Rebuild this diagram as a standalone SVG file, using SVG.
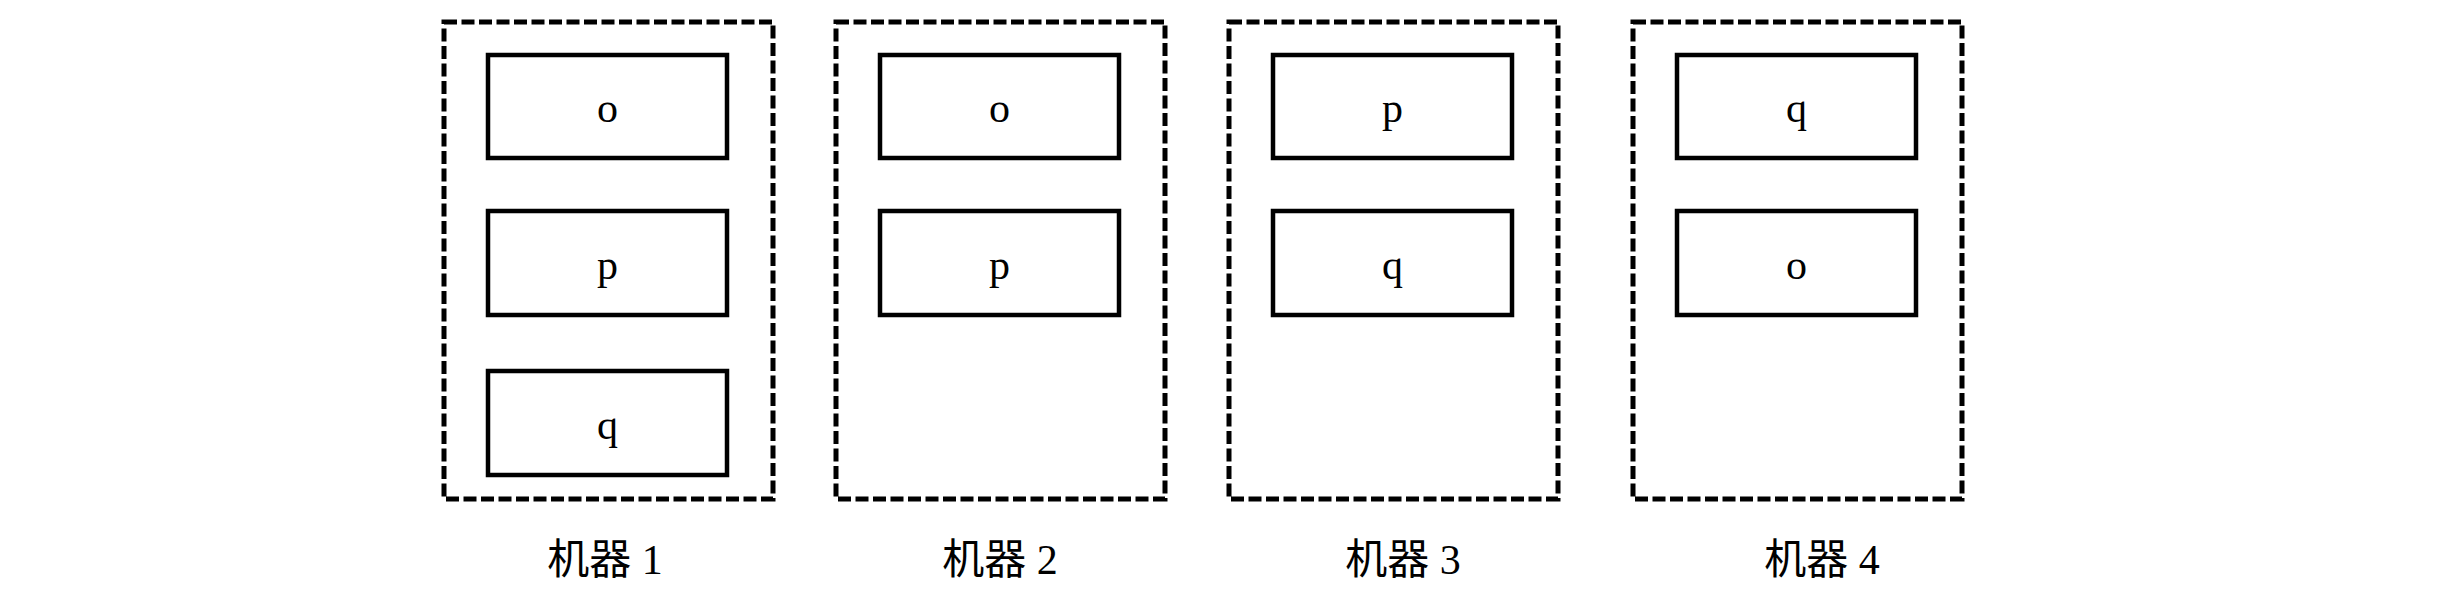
<svg xmlns="http://www.w3.org/2000/svg" width="2460" height="610" viewBox="0 0 2460 610">
<style>
.machine{fill:none;stroke:#000;stroke-width:5;stroke-dasharray:13 4.5}
.task{fill:#fff;stroke:#000;stroke-width:4.5}
.t{font-family:"Liberation Serif","Noto Sans CJK SC",serif;font-size:42px;fill:#000;text-anchor:middle}
</style>
<rect width="2460" height="610" fill="#fff"/>
<g id="machine1">
<rect class="machine" x="444" y="22" width="329" height="477"/>
<rect class="task" x="488" y="55" width="239" height="103"/>
<text class="t" x="607.5" y="122">o</text>
<rect class="task" x="488" y="211" width="239" height="104"/>
<text class="t" x="607.5" y="279">p</text>
<rect class="task" x="488" y="371" width="239" height="104"/>
<text class="t" x="607.5" y="439">q</text>
<text class="t" x="605" y="574">机器 1</text>
</g>
<g id="machine2">
<rect class="machine" x="836" y="22" width="329" height="477"/>
<rect class="task" x="880" y="55" width="239" height="103"/>
<text class="t" x="999.5" y="122">o</text>
<rect class="task" x="880" y="211" width="239" height="104"/>
<text class="t" x="999.5" y="279">p</text>
<text class="t" x="1000" y="574">机器 2</text>
</g>
<g id="machine3">
<rect class="machine" x="1229" y="22" width="329" height="477"/>
<rect class="task" x="1273" y="55" width="239" height="103"/>
<text class="t" x="1392.5" y="122">p</text>
<rect class="task" x="1273" y="211" width="239" height="104"/>
<text class="t" x="1392.5" y="279">q</text>
<text class="t" x="1403" y="574">机器 3</text>
</g>
<g id="machine4">
<rect class="machine" x="1633" y="22" width="329" height="477"/>
<rect class="task" x="1677" y="55" width="239" height="103"/>
<text class="t" x="1796.5" y="122">q</text>
<rect class="task" x="1677" y="211" width="239" height="104"/>
<text class="t" x="1796.5" y="279">o</text>
<text class="t" x="1822" y="574">机器 4</text>
</g>
<g id="connectors"></g>
</svg>
